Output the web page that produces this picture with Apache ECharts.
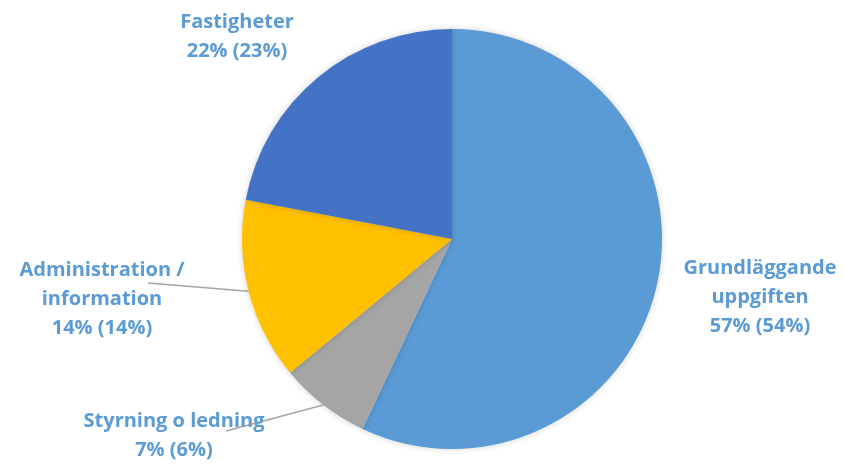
<!DOCTYPE html>
<html>
<head>
<meta charset="utf-8">
<script src="https://cdn.jsdelivr.net/npm/echarts@6/dist/echarts.min.js"></script>
<style>
  html, body { margin: 0; padding: 0; background: #fff; }
  #chart { width: 846px; height: 464px; }
</style>
</head>
<body>
<div id="chart"></div>
<script>
// andelar i procent, medurs från klockan 12
const categories = ["Grundläggande\nuppgiften", "Styrning o ledning", "Administration /\ninformation", "Fastigheter"];
const shares = [57, 7, 14, 22];
// värden inom parentes
const prevShares = [54, 6, 14, 23];
const colors = ["#5B9BD5", "#A5A5A5", "#FFC000", "#4472C4"];

// var etiketterna står (mitt på textblocket)
const labelPos = [
  [760, 297],
  [174, 436],
  [102, 299],
  [237, 37],
];
// slutpunkt för etikettlinjen (null = ingen linje)
const lineEnd = [null, [226, 431], [148, 283], null];

const chart = echarts.init(document.getElementById("chart"), null, { renderer: "canvas" });

chart.setOption({
  backgroundColor: "#fff",
  animation: false,
  series: [
    {
      type: "pie",
      center: [452, 239],
      radius: 210,
      startAngle: 90,
      clockwise: true,
      data: categories.map((name, i) => ({
        name: name,
        value: shares[i],
        itemStyle: { color: colors[i] },
        labelLine: { show: lineEnd[i] !== null },
      })),
      itemStyle: {
        borderWidth: 0,
        shadowBlur: 6,
        shadowColor: "rgba(0,0,0,0.18)",
      },
      label: {
        show: true,
        position: "outside",
        formatter: (p) => `${p.name}\n${shares[p.dataIndex]}% (${prevShares[p.dataIndex]}%)`,
        color: "#5B9BD5",
        fontFamily: "Open Sans",
        fontWeight: "bold",
        fontSize: 20,
        lineHeight: 29,
        align: "center",
        overflow: "none",
        width: 300,
      },
      labelLine: {
        show: true,
        lineStyle: { color: "#A5A5A5", width: 1.5 },
      },
      labelLayout: (params) => {
        const i = params.dataIndex;
        const res = {
          x: labelPos[i][0],
          y: labelPos[i][1],
          align: "center",
          verticalAlign: "middle",
          moveOverlap: false,
        };
        if (lineEnd[i] && params.labelLinePoints) {
          const start = params.labelLinePoints[0];
          res.labelLinePoints = [start, lineEnd[i], lineEnd[i]];
        }
        return res;
      },
    },
  ],
});

window.addEventListener("resize", () => chart.resize());
</script>
</body>
</html>
